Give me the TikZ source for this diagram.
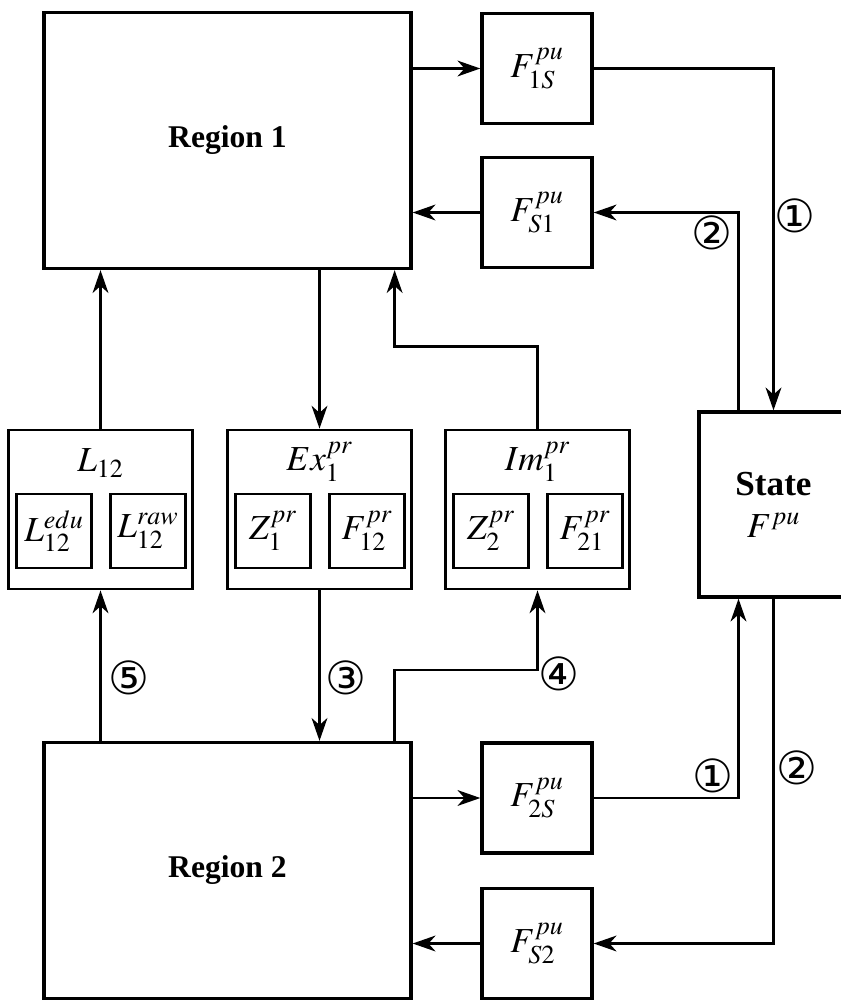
\documentclass[tikz,border=0pt]{standalone}
\usepackage{mathptmx}
\usepackage[no-math]{fontspec}
\setmainfont{Liberation Serif}
\newfontfamily\circfont{DejaVu Sans}
\usetikzlibrary{arrows.meta,positioning,calc}
\tikzset{every picture/.style={line width=1.3pt}}

\begin{document}
\begin{tikzpicture}[x=0.02cm, y=-0.02cm,
    font=\fontsize{20}{24}\selectfont,
    >={Stealth[length=13pt,width=9pt,inset=4pt]},
    region/.style={draw, line width=1.9pt, minimum width=7.34cm, minimum height=5.12cm, inner sep=0pt, font=\fontsize{18}{22}\selectfont\bfseries},
    fbox/.style={draw, line width=1.9pt, minimum width=2.2cm, minimum height=2.2cm, inner sep=0pt},
    group/.style={draw, line width=1.6pt, minimum width=3.68cm, minimum height=3.18cm, inner sep=0pt},
    inbox/.style={draw, line width=1.6pt, minimum width=1.5cm, minimum height=1.48cm, inner sep=0pt},
    num/.style={font=\circfont\fontsize{26}{26}\selectfont, inner sep=0pt}]
    \useasboundingbox (0,0) rectangle (840,1001);

    % 区域
    \node[region] (region1) at (227.5,140.5) {Region 1};
    \node[region] (region2) at (227.5,870.5) {Region 2};

    % 通量
    \node[fbox] (f1s) at (537,68.5) {$F^{pu}_{1S}$};
    \node[fbox] (fs1) at (537,212.5) {$F^{pu}_{S1}$};
    \node[fbox] (f2s) at (537,798) {$F^{pu}_{2S}$};
    \node[fbox] (fs2) at (537,943.5) {$F^{pu}_{S2}$};

    % 状态
    \node[draw, line width=1.9pt, minimum width=2.98cm, minimum height=3.7cm, align=center] (state) at (773.5,504.5) {\textbf{State}\\$F^{pu}$};

    % 交换
    \node[group] (l12) at (100.5,509.5) {};
    \node (l12t) at (100.5,463) {$L_{12}$};
    \node[inbox] (l12e) at (54,531) {$L^{edu}_{12}$};
    \node[inbox] (l12r) at (148,531) {$L^{raw}_{12}$};

    \node[group] (ex) at (319.5,509.5) {};
    \node (ext) at (319.5,462) {$Ex^{pr}_1$};
    \node[inbox] (z1) at (273,531) {$Z^{pr}_1$};
    \node[inbox] (f12) at (367,531) {$F^{pr}_{12}$};

    \node[group] (im) at (537.5,509.5) {};
    \node (imt) at (537.5,462) {$Im^{pr}_1$};
    \node[inbox] (z2) at (491,531) {$Z^{pr}_2$};
    \node[inbox] (f21) at (585,531) {$F^{pr}_{21}$};

    % 上半部分
    \draw[->] (region1.east |- f1s) -- (f1s);
    \draw[->] (fs1) -- (fs1 -| region1.east);
    \draw[->] (f1s) -| node[num, pos=0.715, right=0pt] (n1a) {①} (state);
    \draw[->] ($(state.north)+(-35,0)$) |- node[num, pos=0.5, below left=1pt and 3pt] (n2a) {②} (fs1);
    \draw[->] (l12) -- (l12 |- region1.south);
    \draw[->] (region1.south -| ex) -- (ex);
    \draw[->] (im.north) -- ++(0,-82) -| ($(region1.south east)+(-18,0)$);

    % 下半部分
    \draw[->] (region2.north -| l12) -- node[num, pos=0.42, right=4pt] (n5) {⑤} (l12);
    \draw[->] (ex) -- node[num, pos=0.58, right=3pt] (n3) {③} (ex |- region2.north);
    \draw[->] ($(region2.north east)+(-18,0)$) -- ++(0,-71) -| node[num, pos=0.5, anchor=west, yshift=-2pt] (n4) {④} (im);
    \draw[->] (region2.east |- f2s) -- (f2s);
    \draw[->] (fs2) -- (fs2 -| region2.east);
    \draw[->] (f2s) -| node[num, pos=0.5, above left=2pt and 2pt] (n1b) {①} ($(state.south)+(-35,0)$);
    \draw[->] (state) |- node[num, pos=0.245, right=1pt] (n2b) {②} (fs2);
\end{tikzpicture}
\end{document}
